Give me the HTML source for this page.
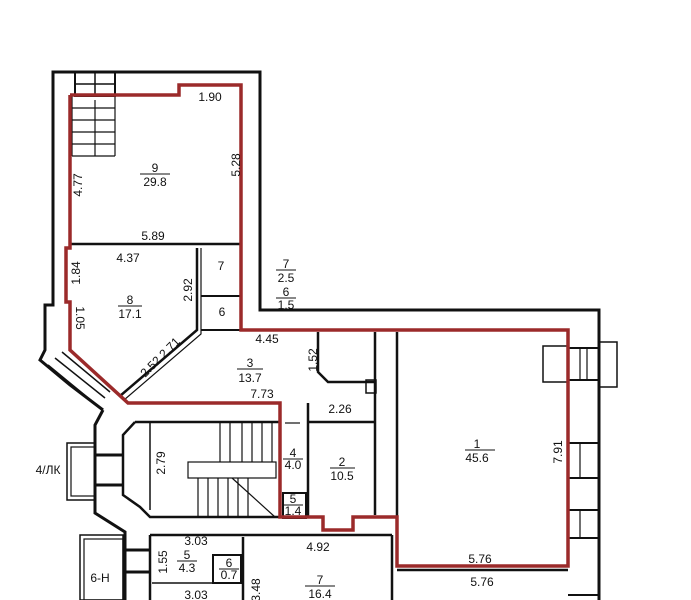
<!DOCTYPE html>
<html><head><meta charset="utf-8"><style>
html,body{margin:0;padding:0;background:#fff}
svg{display:block}
text{font-family:"Liberation Sans",sans-serif;font-size:12px;fill:#111;text-anchor:middle}
</style></head><body>
<svg width="691" height="600" viewBox="0 0 691 600" xmlns="http://www.w3.org/2000/svg">
<g fill="none" stroke="#111" stroke-width="3">
<polyline points="53,100 53,72 260,72 260,310 599,310 599,600"/>
<polyline points="53,72 53,305 45,305 45,350 40,360 70,385 103,410"/>
<polyline points="103,410 95,425 95,513 125,532 125,600"/>
<rect x="75" y="72" width="40" height="24" stroke-width="2"/>
<line x1="75" y1="84" x2="115" y2="84" stroke-width="1.5"/>
<line x1="95" y1="72" x2="95" y2="96" stroke-width="1.5"/>
<g stroke-width="1.2">
<line x1="72" y1="96" x2="72" y2="156"/><line x1="115" y1="96" x2="115" y2="156"/>
<line x1="72" y1="156" x2="115" y2="156"/>
<line x1="72" y1="108" x2="115" y2="108"/><line x1="72" y1="120" x2="115" y2="120"/>
<line x1="72" y1="132" x2="115" y2="132"/><line x1="72" y1="144" x2="115" y2="144"/>
<line x1="95" y1="100" x2="95" y2="156"/>
</g>
<line x1="70" y1="244" x2="241" y2="244" stroke-width="2.5"/>
<polyline points="197,248 197,330 120,396" stroke-width="2.5"/>
<polyline points="201,248 201,334 124,400" stroke-width="1.2"/>
<line x1="201" y1="296" x2="241" y2="296" stroke-width="2"/>
<line x1="201" y1="330" x2="241" y2="330" stroke-width="2"/>
<polyline points="318,332 318,372 328,382 375,382" stroke-width="2.5"/>
<line x1="375" y1="332" x2="375" y2="515" stroke-width="2.5"/>
<line x1="397" y1="332" x2="397" y2="566" stroke-width="2.5"/>
<rect x="366" y="380" width="10" height="13" stroke-width="1.5"/>
<line x1="308" y1="403" x2="308" y2="518" stroke-width="2.5"/>
<line x1="308" y1="422" x2="375" y2="422" stroke-width="2.5"/>
<line x1="285" y1="423" x2="300" y2="423" stroke-width="1.2"/>
<rect x="283" y="493" width="23" height="25" stroke-width="2"/>
<polyline points="135,422 280,422" stroke-width="2.5"/>
<polyline points="135,422 123,435 123,495 140,507 150,517 280,517" stroke-width="2.5"/>
<line x1="150" y1="422" x2="150" y2="510" stroke-width="1.5"/>
<g stroke-width="1.2">
<rect x="188" y="462" width="88" height="16"/>
<line x1="220" y1="422" x2="220" y2="462"/><line x1="230" y1="422" x2="230" y2="462"/>
<line x1="242" y1="422" x2="242" y2="462"/><line x1="252" y1="422" x2="252" y2="462"/>
<line x1="262" y1="422" x2="262" y2="462"/><line x1="272" y1="422" x2="272" y2="462"/>
<line x1="198" y1="478" x2="198" y2="517"/><line x1="208" y1="478" x2="208" y2="517"/>
<line x1="218" y1="478" x2="218" y2="517"/><line x1="228" y1="478" x2="228" y2="517"/>
<line x1="238" y1="478" x2="238" y2="517"/><line x1="248" y1="478" x2="248" y2="517"/>
<line x1="232" y1="478" x2="275" y2="517"/>
</g>
<rect x="67" y="443" width="28" height="57" stroke-width="1.5"/>
<rect x="71" y="447" width="24" height="49" stroke-width="1.2"/>
<line x1="95" y1="455" x2="123" y2="455"/>
<line x1="95" y1="485" x2="123" y2="485"/>
<g stroke-width="1.5">
<line x1="48" y1="365" x2="98" y2="406"/><line x1="55" y1="358" x2="105" y2="398"/>
<line x1="62" y1="352" x2="110" y2="392"/>
</g>
<line x1="150" y1="535" x2="392" y2="535" stroke-width="2.5"/>
<line x1="150" y1="535" x2="150" y2="600" stroke-width="2.5"/>
<line x1="392" y1="535" x2="392" y2="600" stroke-width="2.5"/>
<line x1="243" y1="537" x2="243" y2="600" stroke-width="2.5"/>
<line x1="152" y1="583" x2="243" y2="583" stroke-width="1.5"/>
<rect x="213" y="555" width="28" height="28" stroke-width="2"/>
<rect x="80" y="535" width="43" height="65" stroke-width="1.5"/>
<rect x="84" y="539" width="39" height="61" stroke-width="1.2"/>
<line x1="125" y1="550" x2="150" y2="550"/><line x1="125" y1="572" x2="150" y2="572"/>
<line x1="397" y1="570" x2="568" y2="570" stroke-width="2.5"/>
<rect x="543" y="346" width="25" height="36" stroke-width="1.5"/>
<rect x="599" y="342" width="18" height="45" stroke-width="1.5"/>
<line x1="568" y1="348" x2="599" y2="348" stroke-width="2"/>
<line x1="568" y1="380" x2="599" y2="380" stroke-width="2"/>
<line x1="580" y1="348" x2="580" y2="380" stroke-width="1.2"/><line x1="587" y1="348" x2="587" y2="380" stroke-width="1.2"/>
<line x1="568" y1="443" x2="599" y2="443" stroke-width="2"/>
<line x1="568" y1="478" x2="599" y2="478" stroke-width="2"/>
<line x1="568" y1="510" x2="599" y2="510" stroke-width="2"/>
<line x1="568" y1="538" x2="599" y2="538" stroke-width="2"/>
<line x1="580" y1="443" x2="580" y2="478" stroke-width="1.2"/><line x1="580" y1="510" x2="580" y2="538" stroke-width="1.2"/>
<line x1="568" y1="595" x2="599" y2="595" stroke-width="2"/>
</g>
<polyline fill="none" stroke="#9b2a2a" stroke-width="3.5" stroke-linejoin="miter"
points="70,95 179,95 179,85 241,85 241,330 568,330 568,566 397,566 397,517 353,517 353,530 323,530 323,517 280,517 280,403 128,403 70,350 70,302 66,302 66,248 70,248 70,95"/>
<text x="210" y="101">1.90</text>
<text x="155" y="172">9</text><line x1="140" y1="174" x2="170" y2="174" stroke="#111"/>
<text x="155" y="186">29.8</text>
<text transform="translate(82,185) rotate(-90)">4.77</text>
<text transform="translate(240,165) rotate(-90)">5.28</text>
<text x="153" y="240">5.89</text>
<text x="128" y="262">4.37</text>
<text transform="translate(80,273) rotate(-90)">1.84</text>
<text x="130" y="304">8</text><line x1="118" y1="306" x2="142" y2="306" stroke="#111"/>
<text x="130" y="318">17.1</text>
<text transform="translate(192,290) rotate(-90)">2.92</text>
<text x="221" y="270">7</text>
<text x="286" y="268">7</text><line x1="276" y1="270" x2="296" y2="270" stroke="#111"/>
<text x="286" y="282">2.5</text>
<text x="286" y="296">6</text><line x1="276" y1="298" x2="296" y2="298" stroke="#111"/>
<text x="286" y="309">1.5</text>
<text transform="translate(76,318) rotate(90)">1.05</text>
<text x="222" y="316">6</text>
<text x="267" y="343">4.45</text>
<text x="250" y="367">3</text><line x1="237" y1="369" x2="263" y2="369" stroke="#111"/>
<text x="250" y="382">13.7</text>
<text transform="translate(317,360) rotate(-90)">1.52</text>
<text x="262" y="398">7.73</text>
<text x="340" y="413">2.26</text>
<text transform="translate(163,360) rotate(-45)">2.52 2.71</text>
<text transform="translate(165,463) rotate(-90)">2.79</text>
<text x="293" y="457">4</text><line x1="283" y1="459" x2="303" y2="459" stroke="#111"/>
<text x="293" y="469">4.0</text>
<text x="342" y="466">2</text><line x1="330" y1="468" x2="355" y2="468" stroke="#111"/>
<text x="342" y="480">10.5</text>
<text x="293" y="503">5</text><line x1="283" y1="505" x2="303" y2="505" stroke="#111"/>
<text x="293" y="515">1.4</text>
<text x="48" y="474">4/ЛК</text>
<text x="196" y="545">3.03</text>
<text transform="translate(167,562) rotate(-90)">1.55</text>
<text x="187" y="559">5</text><line x1="177" y1="561" x2="197" y2="561" stroke="#111"/>
<text x="187" y="572">4.3</text>
<text x="229" y="567">6</text><line x1="219" y1="569" x2="239" y2="569" stroke="#111"/>
<text x="229" y="579">0.7</text>
<text x="318" y="551">4.92</text>
<text x="196" y="599">3.03</text>
<text transform="translate(260,590) rotate(-90)">3.48</text>
<text x="320" y="584">7</text><line x1="305" y1="586" x2="335" y2="586" stroke="#111"/>
<text x="320" y="598">16.4</text>
<text x="100" y="582">6-H</text>
<text x="477" y="448">1</text><line x1="465" y1="450" x2="495" y2="450" stroke="#111"/>
<text x="477" y="462">45.6</text>
<text transform="translate(562,452) rotate(-90)">7.91</text>
<text x="480" y="563">5.76</text>
<text x="482" y="586">5.76</text>
</svg>
</body></html>
